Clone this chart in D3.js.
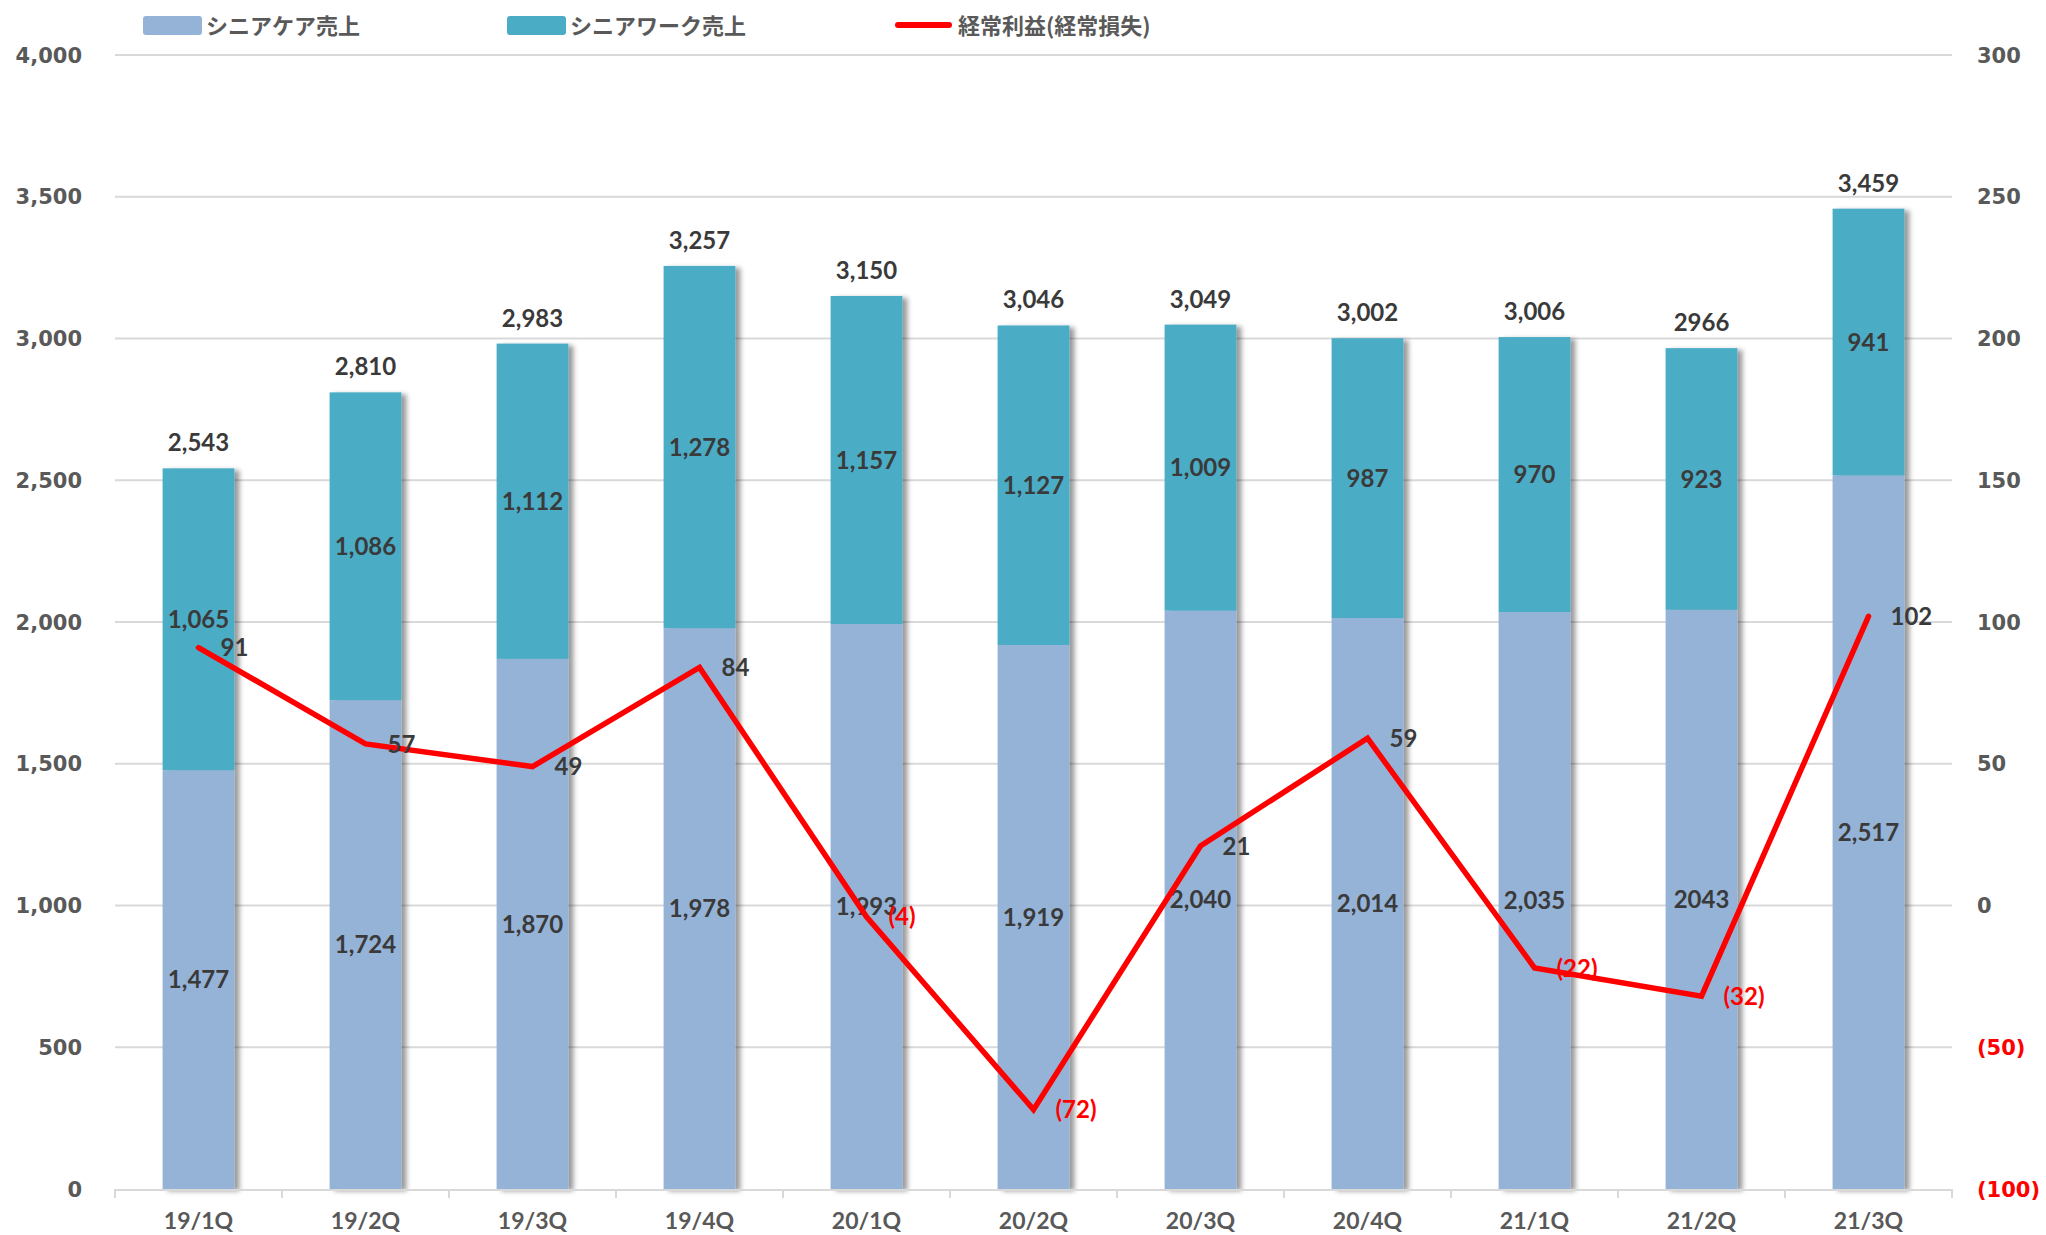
<!DOCTYPE html>
<html>
<head>
<meta charset="utf-8">
<script src="https://cdn.jsdelivr.net/npm/d3@7"></script>
<style>
  html, body { margin: 0; padding: 0; background: #fff; }
  svg { display: block; }
</style>
</head>
<body>
<svg id="chart" width="2046" height="1235"></svg>
<script>
// データ
const quarters = ["19/1Q","19/2Q","19/3Q","19/4Q","20/1Q","20/2Q","20/3Q","20/4Q","21/1Q","21/2Q","21/3Q"];
const careSales = [1477, 1724, 1870, 1978, 1993, 1919, 2040, 2014, 2035, 2043, 2517];
const workSales = [1065, 1086, 1112, 1278, 1157, 1127, 1009, 987, 970, 923, 941];
const profit = [91, 57, 49, 84, -4, -72, 21, 59, -22, -32, 102];
const careLabels = ["1,477","1,724","1,870","1,978","1,993","1,919","2,040","2,014","2,035","2043","2,517"];
const workLabels = ["1,065","1,086","1,112","1,278","1,157","1,127","1,009","987","970","923","941"];
const totalLabels = ["2,543","2,810","2,983","3,257","3,150","3,046","3,049","3,002","3,006","2966","3,459"];
const leftTicks = [0, 500, 1000, 1500, 2000, 2500, 3000, 3500, 4000];
const rightTicks = [-100, -50, 0, 50, 100, 150, 200, 250, 300];
const legendNames = ["シニアケア売上", "シニアワーク売上", "経常利益(経常損失)"];

const careColor = "#95b3d7";
const workColor = "#4bacc6";
const lineColor = "#ff0000";
const gridColor = "#d9d9d9";
const tickColor = "#595959";
const labelColor = "#3a3a3a";
const numFont = "'DejaVu Sans', Verdana, sans-serif";
const lblFont = "Lato, 'Open Sans', sans-serif";
const jpFont = "'Noto Sans CJK JP', sans-serif";

const svg = d3.select("#chart");
const plotL = 115, plotR = 1952, plotT = 55, plotB = 1189;

const x = d3.scaleBand().domain(quarters).range([plotL, plotR]).paddingInner(0).paddingOuter(0);
const yL = d3.scaleLinear().domain([0, 4000]).range([plotB, plotT]);
const yR = d3.scaleLinear().domain([-100, 300]).range([plotB, plotT]);
const barW = x.bandwidth() * 0.43;
const cx = q => x(q) + x.bandwidth() / 2;

// 影
const defs = svg.append("defs");
const f = defs.append("filter").attr("id", "shadow")
  .attr("x", "-20%").attr("y", "-5%").attr("width", "150%").attr("height", "110%");
f.append("feDropShadow").attr("dx", 5).attr("dy", 2).attr("stdDeviation", 2.5)
  .attr("flood-color", "#000").attr("flood-opacity", 0.4);

// グリッド
svg.append("g").selectAll("line")
  .data(leftTicks.filter(d => d > 0))
  .join("line")
  .attr("x1", plotL).attr("x2", plotR)
  .attr("y1", d => yL(d)).attr("y2", d => yL(d))
  .attr("stroke", gridColor).attr("stroke-width", 2);

// 左軸ラベル
svg.append("g").selectAll("text")
  .data(leftTicks)
  .join("text")
  .attr("x", 82).attr("y", d => yL(d))
  .attr("dy", "0.36em")
  .attr("text-anchor", "end")
  .attr("font-family", numFont).attr("font-weight", "bold").attr("font-size", 21)
  .attr("fill", tickColor)
  .text(d => d3.format(",")(d));

// 右軸ラベル
svg.append("g").selectAll("text")
  .data(rightTicks)
  .join("text")
  .attr("x", 1977).attr("y", d => yR(d))
  .attr("dy", "0.36em")
  .attr("font-family", numFont).attr("font-weight", "bold").attr("font-size", 21)
  .attr("fill", d => d < 0 ? lineColor : tickColor)
  .text(d => d < 0 ? `(${-d})` : d);

// 棒
const bars = svg.append("g").selectAll("g")
  .data(quarters)
  .join("g")
  .attr("filter", "url(#shadow)");
bars.append("rect")
  .attr("x", q => cx(q) - barW / 2)
  .attr("width", barW)
  .attr("y", (q, i) => yL(careSales[i]))
  .attr("height", (q, i) => plotB - yL(careSales[i]))
  .attr("fill", careColor);
bars.append("rect")
  .attr("x", q => cx(q) - barW / 2)
  .attr("width", barW)
  .attr("y", (q, i) => yL(careSales[i] + workSales[i]))
  .attr("height", (q, i) => yL(careSales[i]) - yL(careSales[i] + workSales[i]))
  .attr("fill", workColor);

// X軸
const xAxis = svg.append("g");
xAxis.append("line")
  .attr("x1", plotL).attr("x2", plotR).attr("y1", plotB + 1).attr("y2", plotB + 1)
  .attr("stroke", gridColor).attr("stroke-width", 2);
xAxis.selectAll("line.tick")
  .data(quarters.map(q => x(q)).concat([plotR]))
  .join("line").attr("class", "tick")
  .attr("x1", d => d).attr("x2", d => d)
  .attr("y1", plotB).attr("y2", plotB + 9)
  .attr("stroke", gridColor).attr("stroke-width", 2);
xAxis.selectAll("text")
  .data(quarters)
  .join("text")
  .attr("x", cx).attr("y", 1229)
  .attr("text-anchor", "middle")
  .attr("font-family", lblFont).attr("font-weight", "bold").attr("font-size", 23)
  .attr("fill", tickColor)
  .text(d => d);

// 棒ラベル
const lbl = svg.append("g")
  .attr("font-family", lblFont).attr("font-weight", "bold").attr("font-size", 24)
  .attr("text-anchor", "middle").attr("fill", labelColor);
lbl.selectAll("text.care")
  .data(quarters).join("text").attr("class", "care")
  .attr("x", cx)
  .attr("y", (q, i) => (yL(careSales[i]) + plotB) / 2)
  .attr("dy", "0.36em")
  .text((q, i) => careLabels[i]);
lbl.selectAll("text.work")
  .data(quarters).join("text").attr("class", "work")
  .attr("x", cx)
  .attr("y", (q, i) => (yL(careSales[i]) + yL(careSales[i] + workSales[i])) / 2)
  .attr("dy", "0.36em")
  .text((q, i) => workLabels[i]);
lbl.selectAll("text.total")
  .data(quarters).join("text").attr("class", "total")
  .attr("x", cx)
  .attr("y", (q, i) => yL(careSales[i] + workSales[i]) - 17)
  .text((q, i) => totalLabels[i]);

// 経常利益ライン
const line = d3.line()
  .x((d, i) => cx(quarters[i]))
  .y(d => yR(d));
svg.append("path")
  .datum(profit)
  .attr("d", line)
  .attr("fill", "none")
  .attr("stroke", lineColor).attr("stroke-width", 5.5)
  .attr("stroke-linejoin", "miter").attr("stroke-linecap", "round");

svg.append("g")
  .attr("font-family", lblFont).attr("font-weight", "bold").attr("font-size", 24)
  .selectAll("text")
  .data(profit).join("text")
  .attr("x", (d, i) => cx(quarters[i]) + 22)
  .attr("y", d => yR(d))
  .attr("dy", "0.36em")
  .attr("fill", d => d < 0 ? lineColor : labelColor)
  .text(d => d < 0 ? `(${-d})` : d);

// 凡例
const legend = svg.append("g")
  .attr("font-family", jpFont).attr("font-weight", "bold").attr("font-size", 22)
  .attr("fill", tickColor);
const legX = [143, 507, 895];
legend.append("rect").attr("x", legX[0]).attr("y", 16).attr("width", 59).attr("height", 19)
  .attr("rx", 3).attr("fill", careColor);
legend.append("rect").attr("x", legX[1]).attr("y", 16).attr("width", 59).attr("height", 19)
  .attr("rx", 3).attr("fill", workColor);
legend.append("line").attr("x1", legX[2] + 3).attr("x2", legX[2] + 54).attr("y1", 25).attr("y2", 25)
  .attr("stroke", lineColor).attr("stroke-width", 6).attr("stroke-linecap", "round");
legend.selectAll("text")
  .data(legendNames).join("text")
  .attr("x", (d, i) => legX[i] + 63)
  .attr("y", 26).attr("dy", "0.36em")
  .text(d => d);
</script>
</body>
</html>
